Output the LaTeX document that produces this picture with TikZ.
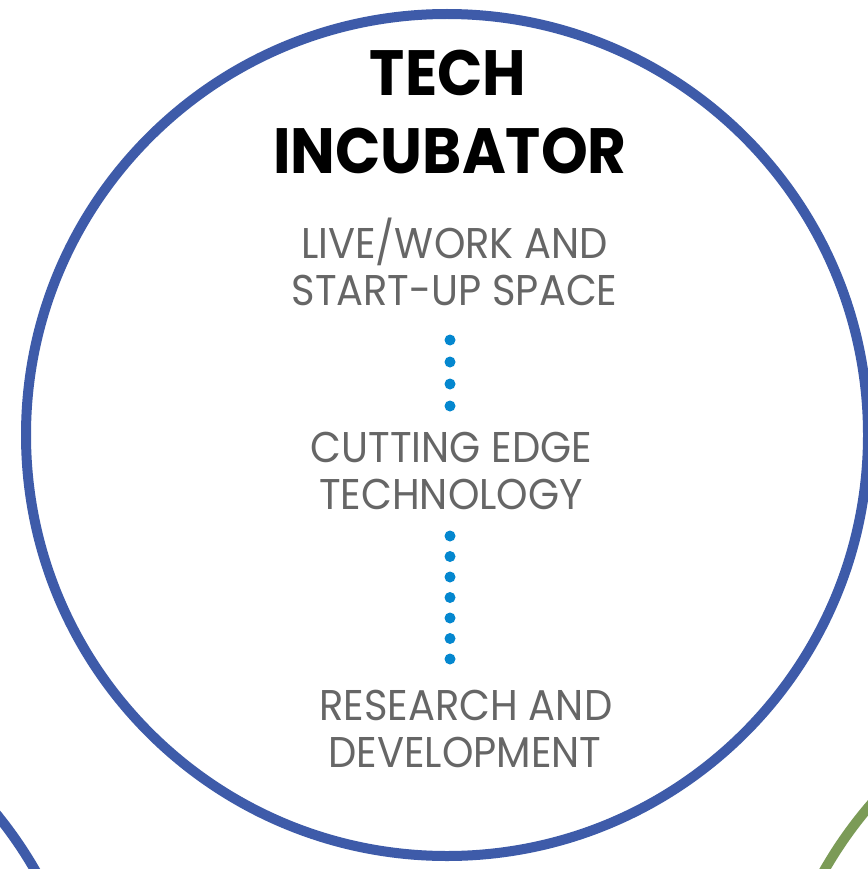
\documentclass[tikz,border=0pt]{standalone}
\usepackage{fontspec}
\setmainfont{Poppins}[FakeStretch=0.93]
\definecolor{ringblue}{HTML}{3E5BA9}
\definecolor{dotblue}{HTML}{0487CF}
\definecolor{textgray}{HTML}{666666}
\definecolor{ringgreen}{HTML}{7B9B57}
\tikzset{
  ring/.style={line width=10pt},
  titletext/.style={anchor=base, inner sep=0pt, font=\fontsize{64}{64}\selectfont\bfseries, text=black},
  itemtext/.style={anchor=base, inner sep=0pt, font=\fontsize{43}{43}\selectfont, text=textgray},
  dotline/.style={draw=dotblue, line width=11pt, line cap=round}
}
\begin{document}
\begin{tikzpicture}[x=1pt,y=-1pt]
\useasboundingbox (0,0) rectangle (867,869);
\fill[white] (0,0) rectangle (867,869);
\draw[ring, draw=ringblue] (-330,1080) circle[radius=421pt];
\draw[ring, draw=ringgreen] (1190,1079) circle[radius=421pt];
\draw[ring, draw=ringblue] (447,435) circle[radius=421pt];
\node[titletext] (t1) at (448,96) {TECH};
\node[titletext] (t2) at (450,173) {INCUBATOR};
\node[itemtext] (a1) at (454.5,258) {LIVE/WORK AND};
\node[itemtext] (a2) at (454.5,305) {START-UP SPACE};
\node[itemtext] (b1) at (451.5,462) {CUTTING EDGE};
\node[itemtext] (b2) at (451,509) {TECHNOLOGY};
\node[itemtext] (c1) at (466,720) {RESEARCH AND};
\node[itemtext] (c2) at (465,767) {DEVELOPMENT};
\coordinate (p1) at (450,340);
\coordinate (p2) at (450,407);
\coordinate (q1) at (450,536);
\coordinate (q2) at (450,661);
\draw[dotline, dash pattern=on 0pt off 22pt] (p1) -- (p2);
\draw[dotline, dash pattern=on 0pt off 20.5pt] (q1) -- (q2);
\end{tikzpicture}
\end{document}
